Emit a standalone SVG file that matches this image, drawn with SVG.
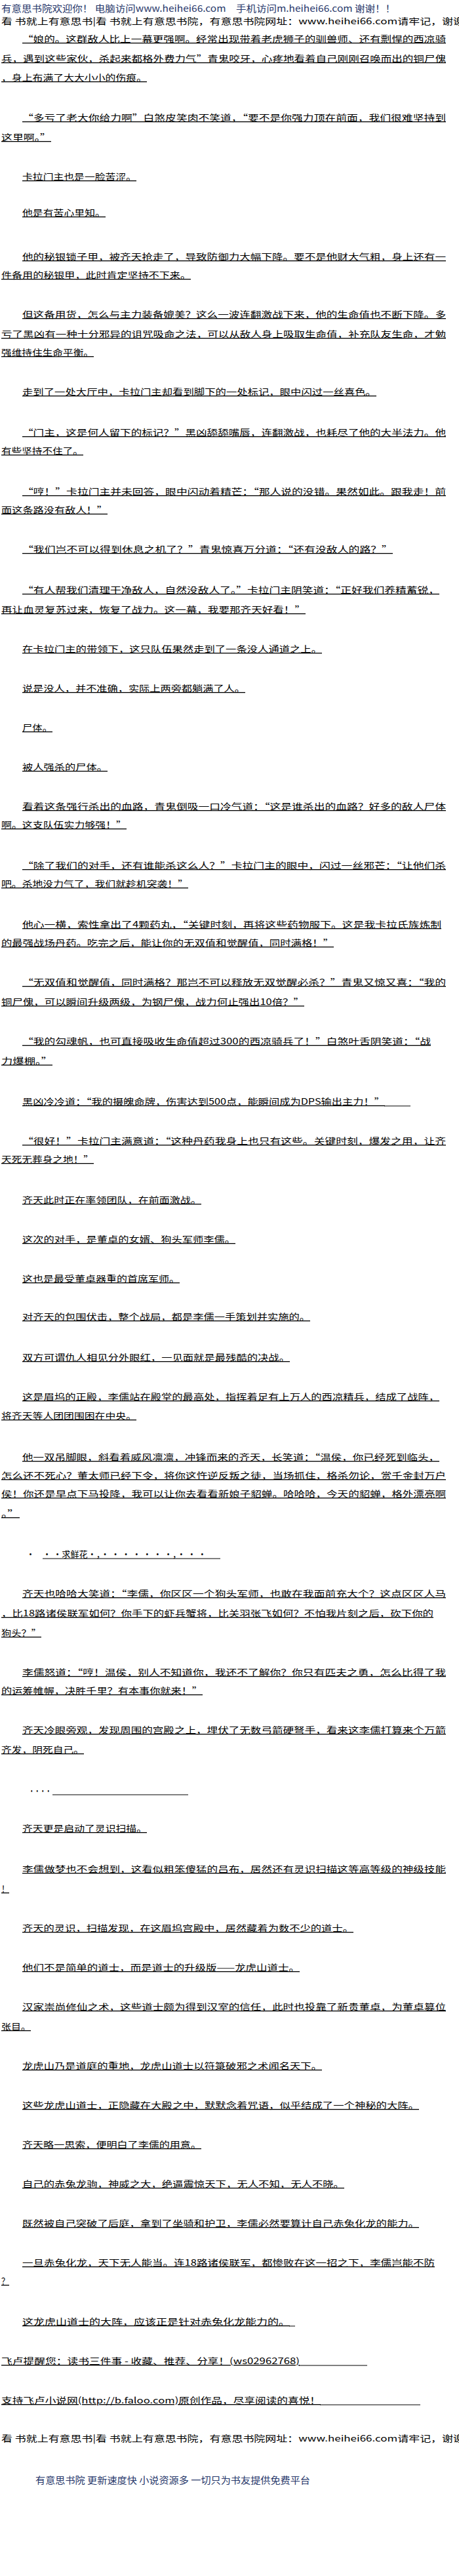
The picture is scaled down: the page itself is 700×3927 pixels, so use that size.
<svg xmlns="http://www.w3.org/2000/svg" width="700" height="3927" viewBox="0 0 700 3927">
<style>
text{font-family:"Noto Sans CJK SC","Noto Sans",sans-serif;font-size:13px;fill:#000;}
.u{text-decoration:underline;}
.h{fill:#27376a;font-size:14px;}
.ul{stroke:#000;stroke-width:1;}
</style>
<rect x="0" y="0" width="700" height="3927" fill="#fff"/>
<g id="header">
<text class="h" x="2" y="18" textLength="601" lengthAdjust="spacingAndGlyphs">有意思书院欢迎你！ 电脑访问www.heihei66.com　手机访问m.heihei66.com 谢谢！！</text>
<text x="2" y="37" textLength="706" lengthAdjust="spacingAndGlyphs">看 书就上有意思书|看 书就上有意思书院，有意思书院网址：www.heihei66.com请牢记，谢谢</text>
</g>
<g id="body">
<g id="p1">
<text class="u" x="34" y="64" textLength="646" lengthAdjust="spacingAndGlyphs">“娘的。这群敌人比上一幕更强啊。经常出现带着老虎狮子的驯兽师、还有剽悍的西凉骑</text>
<text class="u" x="2" y="94" textLength="678" lengthAdjust="spacingAndGlyphs">兵，遇到这些家伙，杀起来都格外费力气”青鬼咬牙，心疼地看着自己刚刚召唤而出的铜尸傀</text>
<text class="u" x="2" y="123" textLength="222" lengthAdjust="spacingAndGlyphs">，身上布满了大大小小的伤痕。</text>
</g>
<g id="p2">
<text class="u" x="34" y="184" textLength="646" lengthAdjust="spacingAndGlyphs">“多亏了老大你给力啊”白煞皮笑肉不笑道，“要不是你强力顶在前面，我们很难坚持到</text>
<text class="u" x="2" y="214" textLength="76" lengthAdjust="spacingAndGlyphs">这里啊。”</text>
</g>
<text id="p3" class="u" x="34" y="274" textLength="174" lengthAdjust="spacingAndGlyphs">卡拉门主也是一脸苦涩。</text>
<text id="p4" class="u" x="34" y="329" textLength="127" lengthAdjust="spacingAndGlyphs">他是有苦心里知。</text>
<g id="p5">
<text class="u" x="34" y="396" textLength="646" lengthAdjust="spacingAndGlyphs">他的秘银锁子甲，被齐天抢走了，导致防御力大幅下降。要不是他财大气粗，身上还有一</text>
<text class="u" x="2" y="424" textLength="289" lengthAdjust="spacingAndGlyphs">件备用的秘银甲，此时肯定坚持不下来。</text>
</g>
<g id="p6">
<text class="u" x="34" y="484" textLength="646" lengthAdjust="spacingAndGlyphs">但这备用货，怎么与主力装备媲美？这么一波连翻激战下来，他的生命值也不断下降。多</text>
<text class="u" x="2" y="514" textLength="678" lengthAdjust="spacingAndGlyphs">亏了黑凶有一种十分邪异的诅咒吸命之法，可以从敌人身上吸取生命值，补充队友生命，才勉</text>
<text class="u" x="2" y="542" textLength="141" lengthAdjust="spacingAndGlyphs">强维持住生命平衡。</text>
</g>
<text id="p7" class="u" x="34" y="602" textLength="540" lengthAdjust="spacingAndGlyphs">走到了一处大厅中，卡拉门主却看到脚下的一处标记，眼中闪过一丝喜色。</text>
<g id="p8">
<text class="u" x="34" y="664" textLength="646" lengthAdjust="spacingAndGlyphs">“门主，这是何人留下的标记？”黑凶舔舔嘴唇，连翻激战，也耗尽了他的大半法力。他</text>
<text class="u" x="2" y="692" textLength="125" lengthAdjust="spacingAndGlyphs">有些坚持不住了。</text>
</g>
<g id="p9">
<text class="u" x="34" y="754" textLength="646" lengthAdjust="spacingAndGlyphs">“哼！”卡拉门主并未回答，眼中闪动着精芒：“那人说的没错。果然如此。跟我走！前</text>
<text class="u" x="2" y="782" textLength="162" lengthAdjust="spacingAndGlyphs">面这条路没有敌人！”</text>
</g>
<text id="p10" class="u" x="34" y="842" textLength="565" lengthAdjust="spacingAndGlyphs">“我们岂不可以得到休息之机了？”青鬼惊喜万分道：“还有没敌人的路？”</text>
<g id="p11">
<text class="u" x="34" y="904" textLength="636" lengthAdjust="spacingAndGlyphs">“有人帮我们清理干净敌人，自然没敌人了。”卡拉门主阴笑道：“正好我们养精蓄锐，</text>
<text class="u" x="2" y="934" textLength="464" lengthAdjust="spacingAndGlyphs">再让血灵复苏过来，恢复了战力。这一幕，我要那齐天好看！”</text>
</g>
<text id="p12" class="u" x="34" y="994" textLength="457" lengthAdjust="spacingAndGlyphs">在卡拉门主的带领下，这只队伍果然走到了一条没人通道之上。</text>
<text id="p13" class="u" x="34" y="1054" textLength="340" lengthAdjust="spacingAndGlyphs">说是没人，并不准确，实际上两旁都躺满了人。</text>
<text id="p14" class="u" x="34" y="1114" textLength="46" lengthAdjust="spacingAndGlyphs">尸体。</text>
<text id="p15" class="u" x="34" y="1174" textLength="130" lengthAdjust="spacingAndGlyphs">被人强杀的尸体。</text>
<g id="p16">
<text class="u" x="34" y="1234" textLength="646" lengthAdjust="spacingAndGlyphs">看着这条强行杀出的血路，青鬼倒吸一口冷气道：“这是谁杀出的血路？好多的敌人尸体</text>
<text class="u" x="2" y="1262" textLength="191" lengthAdjust="spacingAndGlyphs">啊。这支队伍实力够强！”</text>
</g>
<g id="p17">
<text class="u" x="34" y="1324" textLength="646" lengthAdjust="spacingAndGlyphs">“除了我们的对手，还有谁能杀这么人？”卡拉门主的眼中，闪过一丝邪芒：“让他们杀</text>
<text class="u" x="2" y="1352" textLength="285" lengthAdjust="spacingAndGlyphs">吧。杀地没力气了，我们就趁机突袭！”</text>
</g>
<g id="p18">
<text class="u" x="34" y="1414" textLength="639" lengthAdjust="spacingAndGlyphs">他心一横，索性拿出了4颗药丸，“关键时刻，再将这些药物服下。这是我卡拉氏族炼制</text>
<text class="u" x="2" y="1442" textLength="507" lengthAdjust="spacingAndGlyphs">的最强战场丹药。吃完之后，能让你的无双值和觉醒值，同时满格！”</text>
</g>
<g id="p19">
<text class="u" x="34" y="1502" textLength="646" lengthAdjust="spacingAndGlyphs">“无双值和觉醒值，同时满格？那岂不可以释放无双觉醒必杀？”青鬼又惊又喜：“我的</text>
<text class="u" x="2" y="1532" textLength="462" lengthAdjust="spacingAndGlyphs">铜尸傀，可以瞬间升级两级，为钢尸傀，战力何止强出10倍？”</text>
</g>
<g id="p20">
<text class="u" x="34" y="1592" textLength="623" lengthAdjust="spacingAndGlyphs">“我的勾魂帆，也可直接吸收生命值超过300的西凉骑兵了！”白煞叶舌阴笑道：“战</text>
<text class="u" x="2" y="1622" textLength="78" lengthAdjust="spacingAndGlyphs">力爆棚。”</text>
</g>
<g id="p21">
<text class="u" x="34" y="1684" textLength="553" lengthAdjust="spacingAndGlyphs">黑凶冷冷道：“我的摄魄命牌，伤害达到500点，能瞬间成为DPS输出主力！”</text>
<line class="ul" x1="586" y1="1686" x2="626" y2="1686"/>
</g>
<g id="p22">
<text class="u" x="34" y="1744" textLength="646" lengthAdjust="spacingAndGlyphs">“很好！”卡拉门主满意道：“这种丹药我身上也只有这些。关键时刻，爆发之用，让齐</text>
<text class="u" x="2" y="1772" textLength="141" lengthAdjust="spacingAndGlyphs">天死无葬身之地！”</text>
</g>
<text id="p23" class="u" x="34" y="1834" textLength="273" lengthAdjust="spacingAndGlyphs">齐天此时正在率领团队，在前面激战。</text>
<text id="p24" class="u" x="34" y="1894" textLength="325" lengthAdjust="spacingAndGlyphs">这次的对手，是董卓的女婿、狗头军师李儒。</text>
<text id="p25" class="u" x="34" y="1954" textLength="240" lengthAdjust="spacingAndGlyphs">这也是最受董卓器重的首席军师。</text>
<text id="p26" class="u" x="34" y="2012" textLength="439" lengthAdjust="spacingAndGlyphs">对齐天的包围伏击，整个战局，都是李儒一手策划并实施的。</text>
<text id="p27" class="u" x="34" y="2074" textLength="408" lengthAdjust="spacingAndGlyphs">双方可谓仇人相见分外眼红，一见面就是最残酷的决战。</text>
<g id="p28">
<text class="u" x="34" y="2134" textLength="636" lengthAdjust="spacingAndGlyphs">这是眉坞的正殿，李儒站在殿堂的最高处，指挥着足有上万人的西凉精兵，结成了战阵，</text>
<text class="u" x="2" y="2163" textLength="206" lengthAdjust="spacingAndGlyphs">将齐天等人团团围困在中央。</text>
</g>
<g id="p29">
<text class="u" x="34" y="2226" textLength="636" lengthAdjust="spacingAndGlyphs">他一双吊脚眼，斜看着威风凛凛，冲锋而来的齐天，长笑道：“温侯，你已经死到临头，</text>
<text class="u" x="2" y="2254" textLength="678" lengthAdjust="spacingAndGlyphs">怎么还不死心？董太师已经下令，将你这忤逆反叛之徒，当场抓住，格杀勿论，赏千金封万户</text>
<text class="u" x="2" y="2282" textLength="678" lengthAdjust="spacingAndGlyphs">侯！你还是早点下马投降，我可以让你去看看新娘子貂蝉。哈哈哈，今天的貂蝉，格外漂亮啊</text>
<text class="u" x="2" y="2312" textLength="28" lengthAdjust="spacingAndGlyphs">。”</text>
</g>
<g id="p30">
<text x="40" y="2374">·</text>
<text x="65" y="2374" textLength="250" lengthAdjust="spacingAndGlyphs">· ·求鲜花·，· · · · · · ·，· · ·</text>
<line class="ul" x1="65" y1="2376" x2="336" y2="2376"/>
</g>
<g id="p31">
<text class="u" x="34" y="2434" textLength="646" lengthAdjust="spacingAndGlyphs">齐天也哈哈大笑道：“李儒，你区区一个狗头军师，也敢在我面前充大个？这点区区人马</text>
<text class="u" x="2" y="2464" textLength="659" lengthAdjust="spacingAndGlyphs">，比18路诸侯联军如何？你手下的虾兵蟹将，比关羽张飞如何？不怕我片刻之后，砍下你的</text>
<text class="u" x="2" y="2494" textLength="61" lengthAdjust="spacingAndGlyphs">狗头？”</text>
</g>
<g id="p32">
<text class="u" x="34" y="2554" textLength="646" lengthAdjust="spacingAndGlyphs">李儒怒道：“哼！温侯，别人不知道你，我还不了解你？你只有匹夫之勇，怎么比得了我</text>
<text class="u" x="2" y="2582" textLength="307" lengthAdjust="spacingAndGlyphs">的运筹帷幄，决胜千里？有本事你就来！”</text>
</g>
<g id="p33">
<text class="u" x="34" y="2642" textLength="646" lengthAdjust="spacingAndGlyphs">齐天冷眼旁观，发现周围的宫殿之上，埋伏了无数弓箭硬弩手，看来这李儒打算来个万箭</text>
<text class="u" x="2" y="2672" textLength="126" lengthAdjust="spacingAndGlyphs">齐发，阴死自己。</text>
</g>
<g id="p34">
<text x="44" y="2735" textLength="34" lengthAdjust="spacingAndGlyphs">····</text>
<line class="ul" x1="80" y1="2736" x2="287" y2="2736"/>
</g>
<text id="p35" class="u" x="34" y="2792" textLength="190" lengthAdjust="spacingAndGlyphs">齐天更是启动了灵识扫描。</text>
<g id="p36">
<text class="u" x="34" y="2854" textLength="646" lengthAdjust="spacingAndGlyphs">李儒做梦也不会想到，这看似粗笨傻猛的吕布，居然还有灵识扫描这等高等级的神级技能</text>
<text class="u" x="2" y="2884" textLength="12" lengthAdjust="spacingAndGlyphs">！</text>
</g>
<text id="p37" class="u" x="34" y="2944" textLength="505" lengthAdjust="spacingAndGlyphs">齐天的灵识，扫描发现，在这眉坞宫殿中，居然藏着为数不少的道士。</text>
<text id="p38" class="u" x="34" y="3004" textLength="423" lengthAdjust="spacingAndGlyphs">他们不是简单的道士，而是道士的升级版——龙虎山道士。</text>
<g id="p39">
<text class="u" x="34" y="3064" textLength="646" lengthAdjust="spacingAndGlyphs">汉家崇尚修仙之术，这些道士颇为得到汉室的信任，此时也投靠了新贵董卓，为董卓篡位</text>
<text class="u" x="2" y="3094" textLength="45" lengthAdjust="spacingAndGlyphs">张目。</text>
</g>
<text id="p40" class="u" x="34" y="3154" textLength="457" lengthAdjust="spacingAndGlyphs">龙虎山乃是道庭的重地，龙虎山道士以符箓破邪之术闻名天下。</text>
<text id="p41" class="u" x="34" y="3214" textLength="605" lengthAdjust="spacingAndGlyphs">这些龙虎山道士，正隐藏在大殿之中，默默念着咒语，似乎结成了一个神秘的大阵。</text>
<text id="p42" class="u" x="34" y="3274" textLength="273" lengthAdjust="spacingAndGlyphs">齐天略一思索，便明白了李儒的用意。</text>
<text id="p43" class="u" x="34" y="3334" textLength="491" lengthAdjust="spacingAndGlyphs">自己的赤兔龙驹，神威之大，绝逼震惊天下，无人不知，无人不晓。</text>
<text id="p44" class="u" x="34" y="3394" textLength="605" lengthAdjust="spacingAndGlyphs">既然被自己突破了后庭，拿到了坐骑和护卫，李儒必然要算计自己赤兔化龙的能力。</text>
<g id="p45">
<text class="u" x="34" y="3454" textLength="629" lengthAdjust="spacingAndGlyphs">一旦赤兔化龙，天下无人能当。连18路诸侯联军，都惨败在这一招之下，李儒岂能不防</text>
<text class="u" x="2" y="3482" textLength="12" lengthAdjust="spacingAndGlyphs">？</text>
</g>
<g id="p46">
<text class="u" x="34" y="3544" textLength="408" lengthAdjust="spacingAndGlyphs">这龙虎山道士的大阵，应该正是针对赤兔化龙能力的。</text>
<line class="ul" x1="441" y1="3546" x2="450" y2="3546"/>
</g>
<g id="p47">
<text class="u" x="2" y="3604" textLength="455" lengthAdjust="spacingAndGlyphs">飞卢提醒您：读书三件事 - 收藏、推荐、分享！(ws02962768)</text>
<line class="ul" x1="456" y1="3606" x2="560" y2="3606"/>
</g>
<g id="p48">
<text class="u" x="2" y="3664" textLength="487" lengthAdjust="spacingAndGlyphs">支持飞卢小说网(http://b.faloo.com)原创作品，尽享阅读的喜悦！</text>
<line class="ul" x1="488" y1="3666" x2="641" y2="3666"/>
</g>
</g>
<g id="footer">
<text x="2" y="3722" textLength="706" lengthAdjust="spacingAndGlyphs">看 书就上有意思书|看 书就上有意思书院，有意思书院网址：www.heihei66.com请牢记，谢谢</text>
<text class="h" x="54" y="3786" textLength="419" lengthAdjust="spacingAndGlyphs">有意思书院 更新速度快 小说资源多 一切只为书友提供免费平台</text>
</g>
</svg>
